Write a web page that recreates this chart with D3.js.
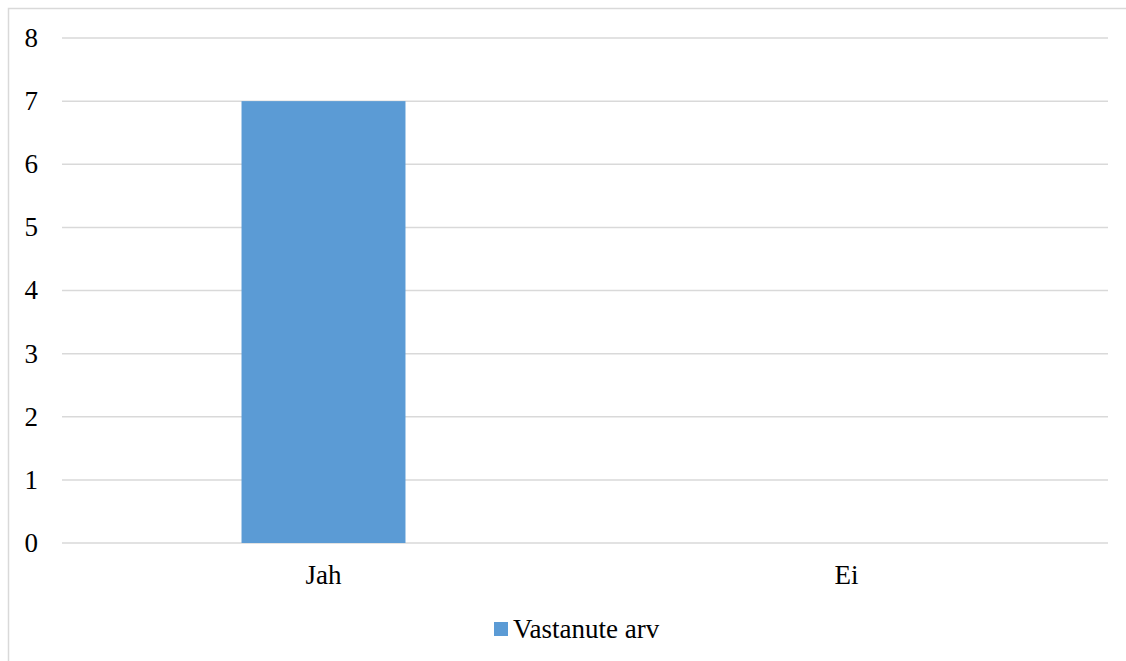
<!DOCTYPE html>
<html>
<head>
<meta charset="utf-8">
<script src="https://cdn.jsdelivr.net/npm/d3@7"></script>
<style>
  body { margin: 0; background: #fff; }
  text { font-family: "Liberation Serif", "Times New Roman", serif; fill: #000; }
</style>
</head>
<body>
<script>
// data
var categories = ["Jah", "Ei"];
var values = [7, 0];
var yTicks = [0, 1, 2, 3, 4, 5, 6, 7, 8];
var seriesName = "Vastanute arv";

// set the dimensions of the plot area
var plot = {left: 62, right: 1108, top: 38, bottom: 543};

var svg = d3.select("body").append("svg")
    .attr("width", 1126)
    .attr("height", 661);

// chart border (cut off at the right and bottom)
svg.append("rect")
    .attr("x", 8.5)
    .attr("y", 8.5)
    .attr("width", 1130)
    .attr("height", 670)
    .attr("fill", "none")
    .attr("stroke", "#d9d9d9")
    .attr("stroke-width", 1.5);

// set the ranges
var x = d3.scaleBand().domain(categories).range([plot.left, plot.right]);
var y = d3.scaleLinear().domain([0, 8]).range([plot.bottom, plot.top]);

// gridlines
svg.append("g")
  .selectAll("line")
    .data(yTicks)
  .enter().append("line")
    .attr("x1", plot.left)
    .attr("x2", plot.right)
    .attr("y1", function(d) { return y(d); })
    .attr("y2", function(d) { return y(d); })
    .attr("stroke", "#d9d9d9")
    .attr("stroke-width", 1.5);

// y labels
svg.append("g")
  .selectAll("text")
    .data(yTicks)
  .enter().append("text")
    .attr("x", 38)
    .attr("y", function(d) { return y(d); })
    .attr("dy", "0.33em")
    .attr("text-anchor", "end")
    .attr("font-size", 27)
    .text(function(d) { return d; });

// bars (gap width like office charts)
var barW = x.bandwidth() / 3.19;
svg.append("g")
  .selectAll("rect")
    .data(values)
  .enter().append("rect")
    .attr("x", function(d, i) { return x(categories[i]) + x.bandwidth() / 2 - barW / 2; })
    .attr("y", function(d) { return y(d); })
    .attr("width", barW)
    .attr("height", function(d) { return y(0) - y(d); })
    .attr("fill", "#5b9bd5");

// x labels
svg.append("g")
  .selectAll("text")
    .data(categories)
  .enter().append("text")
    .attr("x", function(d) { return x(d) + x.bandwidth() / 2; })
    .attr("y", 584)
    .attr("text-anchor", "middle")
    .attr("font-size", 27)
    .text(function(d) { return d; });

// legend
svg.append("rect")
    .attr("x", 494)
    .attr("y", 622)
    .attr("width", 14)
    .attr("height", 14)
    .attr("fill", "#5b9bd5");
svg.append("text")
    .attr("x", 513)
    .attr("y", 638)
    .attr("font-size", 27)
    .text(seriesName);
</script>
</body>
</html>
